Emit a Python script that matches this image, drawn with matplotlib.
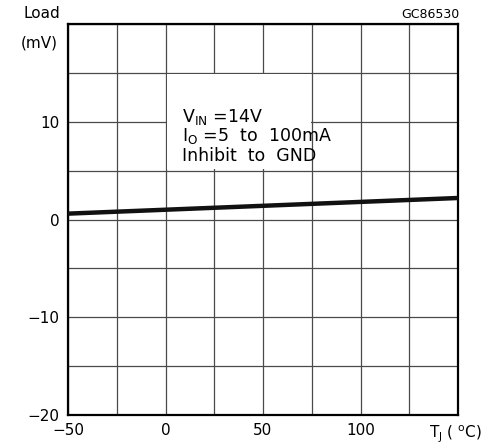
import numpy as np
import matplotlib
matplotlib.use('Agg')
from matplotlib import pyplot as plt
from matplotlib.patches import Rectangle

# line regulation vs junction temperature
tj = [-50, 150]
load_mv = [0.6, 2.2]

xticks = [-50, 0, 50, 100]
yticks = [-20, -10, 0, 10]
xticklabels = ['\u221250', '0', '50', '100']
yticklabels = ['\u221220', '\u221210', '0', '10']

plt.rcParams['font.family'] = ['DejaVu Sans']

fig = plt.figure(figsize=(4.93, 4.46), dpi=100)
ax = fig.add_axes([68/493, 1 - 415/446, 390/493, 391/446])

ax.set_xlim(-50, 150)
ax.set_ylim(-20, 20)
ax.set_xticks(np.arange(-50, 151, 25), minor=True)
ax.set_yticks(np.arange(-20, 21, 5), minor=True)
ax.set_xticks(xticks)
ax.set_yticks(yticks)
ax.set_xticklabels(xticklabels)
ax.set_yticklabels(yticklabels)
ax.grid(True, which='both', color='#4a4a4a', linewidth=0.9)
ax.tick_params(which='both', length=0, labelsize=11, pad=6)
for s in ax.spines.values():
    s.set_linewidth(1.6)

# blank out the inner grid behind the conditions text
ax.add_patch(Rectangle((0.6, 5.12), 73.8, 9.76, facecolor='white',
                       edgecolor='none', zorder=2))

ax.plot(tj, load_mv, color='#111111', linewidth=3.2, solid_capstyle='butt', zorder=3)

ax.text(8.5, 10.0, r'V$_{\rm IN}$ =14V', fontsize=12.5, zorder=4)
ax.text(8.5, 8.0, r'I$_{\rm O}$ =5  to  100mA', fontsize=12.5, zorder=4)
ax.text(8.5, 6.0, 'Inhibit  to  GND', fontsize=12.5, zorder=4)

fig.text(60/493, 1 - 14/446, 'Load', fontsize=11, ha='right', va='center')
fig.text(58/493, 1 - 43/446, '(mV)', fontsize=11, ha='right', va='center')
fig.text(459/493, 1 - 14/446, 'GC86530', fontsize=9, ha='right', va='center')
fig.text(429/493, 1 - 434/446, r'T$_{\rm J}$ ( $^{\rm o}$C)', fontsize=11, ha='left', va='center')

fig.savefig('out.png', dpi=100)
